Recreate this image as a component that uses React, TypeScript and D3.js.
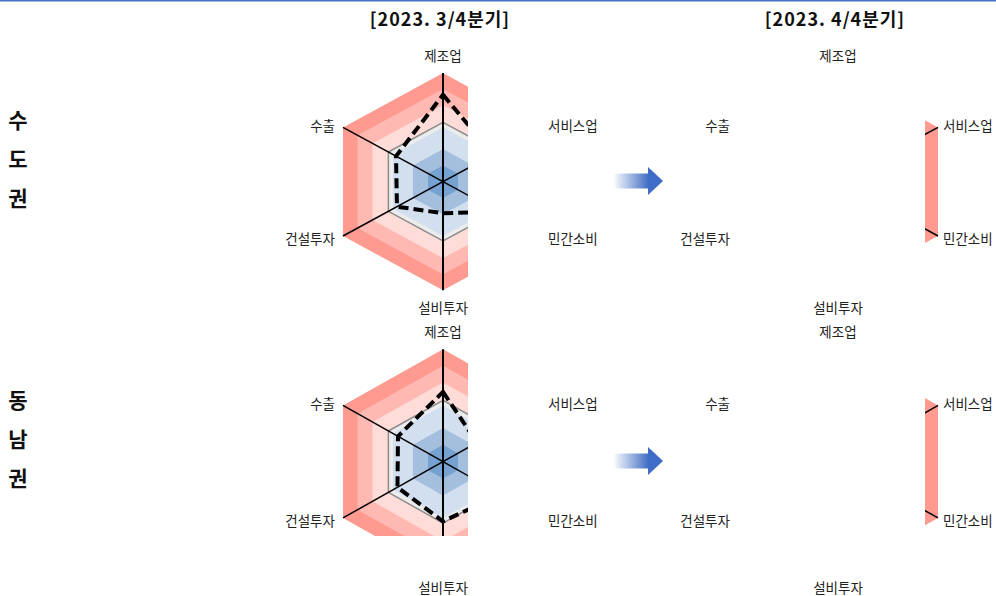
import React, { useEffect, useRef } from "react";
import * as d3 from "d3";

const axisNames = ["제조업", "서비스업", "민간소비", "설비투자", "건설투자", "수출"];
const periods = ["[2023. 3/4분기]", "[2023. 4/4분기]"];
const regions = ["수도권", "동남권"];

// ring edges on a 0 (centre) .. 100 (outer) scale, drawn from outside in
const bandLevels = [100, 85.4, 70.5, 54.6, 50, 30, 15];
const bandColors = ["#ff9a90", "#ffb9b2", "#ffdcd8", "#ececec", "#d1dfee", "#a4bfde", "#76a2d2"];
const refLevel = 54.6;

// values per axis, same order as axisNames
const sudo3Q = [80, 50, 55, 29, 46, 47];
const sudo4Q = [66, 52, 50, 40, 44, 56];
const dongnam3Q = [62, 34, 58, 53, 45.5, 45];
const dongnam4Q = [58, 48, 52, 45, 42, 55];

const W = 996;
const H = 596;
const FONT = "'Noto Sans CJK KR', 'Noto Sans', sans-serif";

const App = () => {
  const ref = useRef<SVGSVGElement>(null);

  useEffect(() => {
    const svg = d3.select(ref.current);
    svg.selectAll("*").remove();

    const colX = [443, 838];
    const rowY = [181.7, 461.7];
    const rowRy = [108.6, 112.5];
    const rx = 115.5;
    // visible part of each panel's plot area
    const clips = [
      [{ x0: 0, x1: 468, y0: 0, y1: H }, { x0: 925, x1: W, y0: 0, y1: H }],
      [{ x0: 0, x1: 468, y0: 0, y1: 536 }, { x0: 925, x1: W, y0: 0, y1: H }],
    ];
    const values = [
      [sudo3Q, sudo4Q],
      [dongnam3Q, dongnam4Q],
    ];

    const r = d3.scaleLinear().domain([0, 100]).range([0, 1]);
    const angle = d3
      .scaleLinear()
      .domain([0, axisNames.length])
      .range([-Math.PI / 2, (3 * Math.PI) / 2]);

    const defs = svg.append("defs");
    const grad = defs
      .append("linearGradient")
      .attr("id", "arrowGrad")
      .attr("x1", "0%")
      .attr("x2", "100%");
    grad.append("stop").attr("offset", "0%").attr("stop-color", "#ffffff");
    grad.append("stop").attr("offset", "100%").attr("stop-color", "#3f6cc4");

    // top rule
    svg
      .append("line")
      .attr("x1", 0)
      .attr("x2", W)
      .attr("y1", 0.75)
      .attr("y2", 0.75)
      .attr("stroke", "#4472c4")
      .attr("stroke-width", 1.5);

    periods.forEach((p, ci) => {
      svg
        .append("text")
        .attr("x", colX[ci] - 3)
        .attr("y", 18)
        .attr("text-anchor", "middle")
        .attr("dominant-baseline", "central")
        .attr("font-family", FONT)
        .attr("font-weight", "bold")
        .attr("font-size", 18)
        .attr("letter-spacing", 1)
        .attr("fill", "#111")
        .text(p);
    });

    regions.forEach((reg, ri) => {
      const cy = rowY[ri];
      const ry = rowRy[ri];
      Array.from(reg).forEach((ch, k) => {
        svg
          .append("text")
          .attr("x", 18)
          .attr("y", cy - 63 + k * 39)
          .attr("text-anchor", "middle")
          .attr("dominant-baseline", "central")
          .attr("font-family", FONT)
          .attr("font-weight", "bold")
          .attr("font-size", 21)
          .attr("fill", "#111")
          .text(ch);
      });

      // arrow between the two periods
      const ag = svg.append("g").attr("transform", `translate(613,${cy - 0.7})`);
      ag.append("rect")
        .attr("x", 0)
        .attr("y", -7.5)
        .attr("width", 36)
        .attr("height", 15)
        .attr("fill", "url(#arrowGrad)");
      ag.append("path").attr("d", "M35,-14L50,0L35,14Z").attr("fill", "#3f6cc4");

      colX.forEach((cx, ci) => {
        const pt = (v: number, i: number): [number, number] => [
          cx + r(v) * rx * Math.cos(angle(i)),
          cy + r(v) * ry * Math.sin(angle(i)),
        ];
        const ring = (v: number) => axisNames.map((_, i) => pt(v, i));
        const closed = d3.line().curve(d3.curveLinearClosed);

        const c = clips[ri][ci];
        const clipId = `clip-${ri}-${ci}`;
        defs
          .append("clipPath")
          .attr("id", clipId)
          .append("rect")
          .attr("x", c.x0)
          .attr("y", c.y0)
          .attr("width", c.x1 - c.x0)
          .attr("height", c.y1 - c.y0);

        const g = svg.append("g").attr("clip-path", `url(#${clipId})`);

        g.selectAll(".band")
          .data(bandLevels)
          .enter()
          .append("path")
          .attr("d", (d) => closed(ring(d)))
          .attr("fill", (_, i) => bandColors[i]);

        g.append("path")
          .attr("d", closed(ring(refLevel)))
          .attr("fill", "none")
          .attr("stroke", "#8c8c8c")
          .attr("stroke-width", 1.5);

        g.selectAll(".axis")
          .data(axisNames)
          .enter()
          .append("line")
          .attr("x1", cx)
          .attr("y1", cy)
          .attr("x2", (_, i) => pt(100, i)[0])
          .attr("y2", (_, i) => pt(100, i)[1])
          .attr("stroke", "#000")
          .attr("stroke-width", (_, i) => (i % 3 === 0 ? 2 : 1.5));

        g.append("path")
          .attr("d", closed(values[ri][ci].map((v, i) => pt(v, i))))
          .attr("fill", "none")
          .attr("stroke", "#000")
          .attr("stroke-width", 4)
          .attr("stroke-dasharray", "10,5")
          .attr("stroke-linejoin", "miter");

        // axis labels (not clipped)
        axisNames.forEach((name, i) => {
          const [vx, vy] = pt(100, i);
          let x = vx;
          let y = vy;
          let anchor = "middle";
          if (i === 0) y = vy - 18;
          else if (i === 3) y = cy + 125.5;
          else if (i === 1 || i === 2) {
            x = vx + 5;
            anchor = "start";
            y = vy + (i === 1 ? -2 : 2);
          } else {
            x = vx - 8;
            anchor = "end";
            y = vy + (i === 5 ? -2 : 2);
          }
          svg
            .append("text")
            .attr("x", x)
            .attr("y", y)
            .attr("text-anchor", anchor)
            .attr("dominant-baseline", "central")
            .attr("font-family", FONT)
            .attr("font-size", 13.5)
            .attr("fill", "#222")
            .text(name);
        });
      });
    });
  }, []);

  return (
    <svg
      ref={ref}
      width={W}
      height={H}
      style={{ position: "absolute", left: 0, top: 0, background: "#fff" }}
    />
  );
};

export default App;
